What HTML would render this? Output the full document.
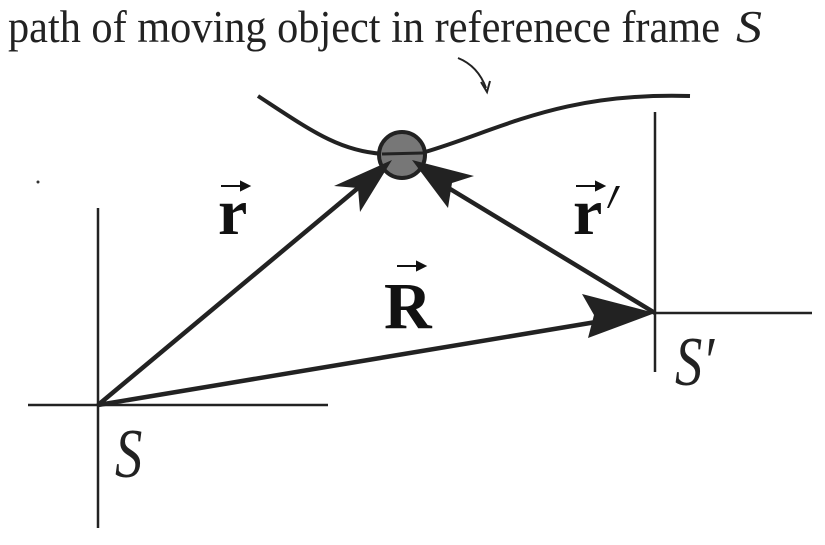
<!DOCTYPE html>
<html><head><meta charset="utf-8"><style>html,body{margin:0;padding:0;background:#fff}svg{display:block}</style></head>
<body>
<svg width="825" height="545" viewBox="0 0 825 545" xmlns="http://www.w3.org/2000/svg">
<text x="8" y="42" font-family="'Liberation Serif', serif" font-size="45" fill="#222" textLength="712" lengthAdjust="spacingAndGlyphs">path of moving object in referenece frame</text>
<text x="736" y="42" font-family="'Liberation Serif', serif" font-size="45" font-style="italic" fill="#222" textLength="26" lengthAdjust="spacingAndGlyphs">S</text>
<path d="M458 58 Q478 66 486 88" stroke="#222" stroke-width="2" fill="none"/>
<path d="M481 82 L487 92 L490 81" stroke="#222" stroke-width="2" fill="none"/>
<g stroke="#222" stroke-width="2.5">
<line x1="98" y1="208" x2="98" y2="528"/>
<line x1="28" y1="405" x2="328" y2="405"/>
<line x1="655" y1="112" x2="655" y2="372"/>
<line x1="655" y1="313" x2="812" y2="313"/>
</g>
<circle cx="38" cy="182" r="1.5" fill="#333"/>
<path d="M258 96 C310 130 340 152 385 154" stroke="#222" stroke-width="4" fill="none"/>
<path d="M425 152 C500 130 560 92 690 96" stroke="#222" stroke-width="4" fill="none"/>
<circle cx="402" cy="155" r="23" fill="#777" stroke="#222" stroke-width="4"/>
<line x1="382" y1="154" x2="423" y2="153" stroke="#222" stroke-width="3"/>
<g stroke="#222" stroke-width="4.5" fill="none">
<line x1="98" y1="405" x2="370" y2="178"/>
<line x1="655" y1="313" x2="432" y2="178"/>
<line x1="98" y1="405" x2="620" y2="318"/>
</g>
<g fill="#222">
<polygon points="392,160 334,186 358,188 360,212"/>
<polygon points="412,160 474,176 452,183 448,208"/>
<polygon points="655,313 582,294 594,315 588,338"/>
</g>
<g font-family="'Liberation Serif', serif" font-weight="bold" fill="#111">
<text x="218" y="234" font-size="66">r</text>
<text x="573" y="234" font-size="66">r</text>
<text x="384" y="328" font-size="66">R</text>
</g>
<g stroke="#111" stroke-width="2" fill="#111">
<line x1="221" y1="186" x2="246" y2="186"/><polygon points="249,186 241,182 241,190"/>
<line x1="576" y1="186" x2="601" y2="186"/><polygon points="604,186 596,182 596,190"/>
<line x1="397" y1="266" x2="422" y2="266"/><polygon points="425,266 417,262 417,270"/>
</g>
<path d="M616 186 L620 186 L609 208 L607 208 Z" fill="#111"/>
<text transform="translate(115,477) scale(0.78,1)" font-family="'Liberation Serif', serif" font-style="italic" font-size="70" fill="#222">S</text>
<text transform="translate(675,385) scale(0.78,1)" font-family="'Liberation Serif', serif" font-style="italic" font-size="70" fill="#222">S′</text>
</svg>
</body></html>
